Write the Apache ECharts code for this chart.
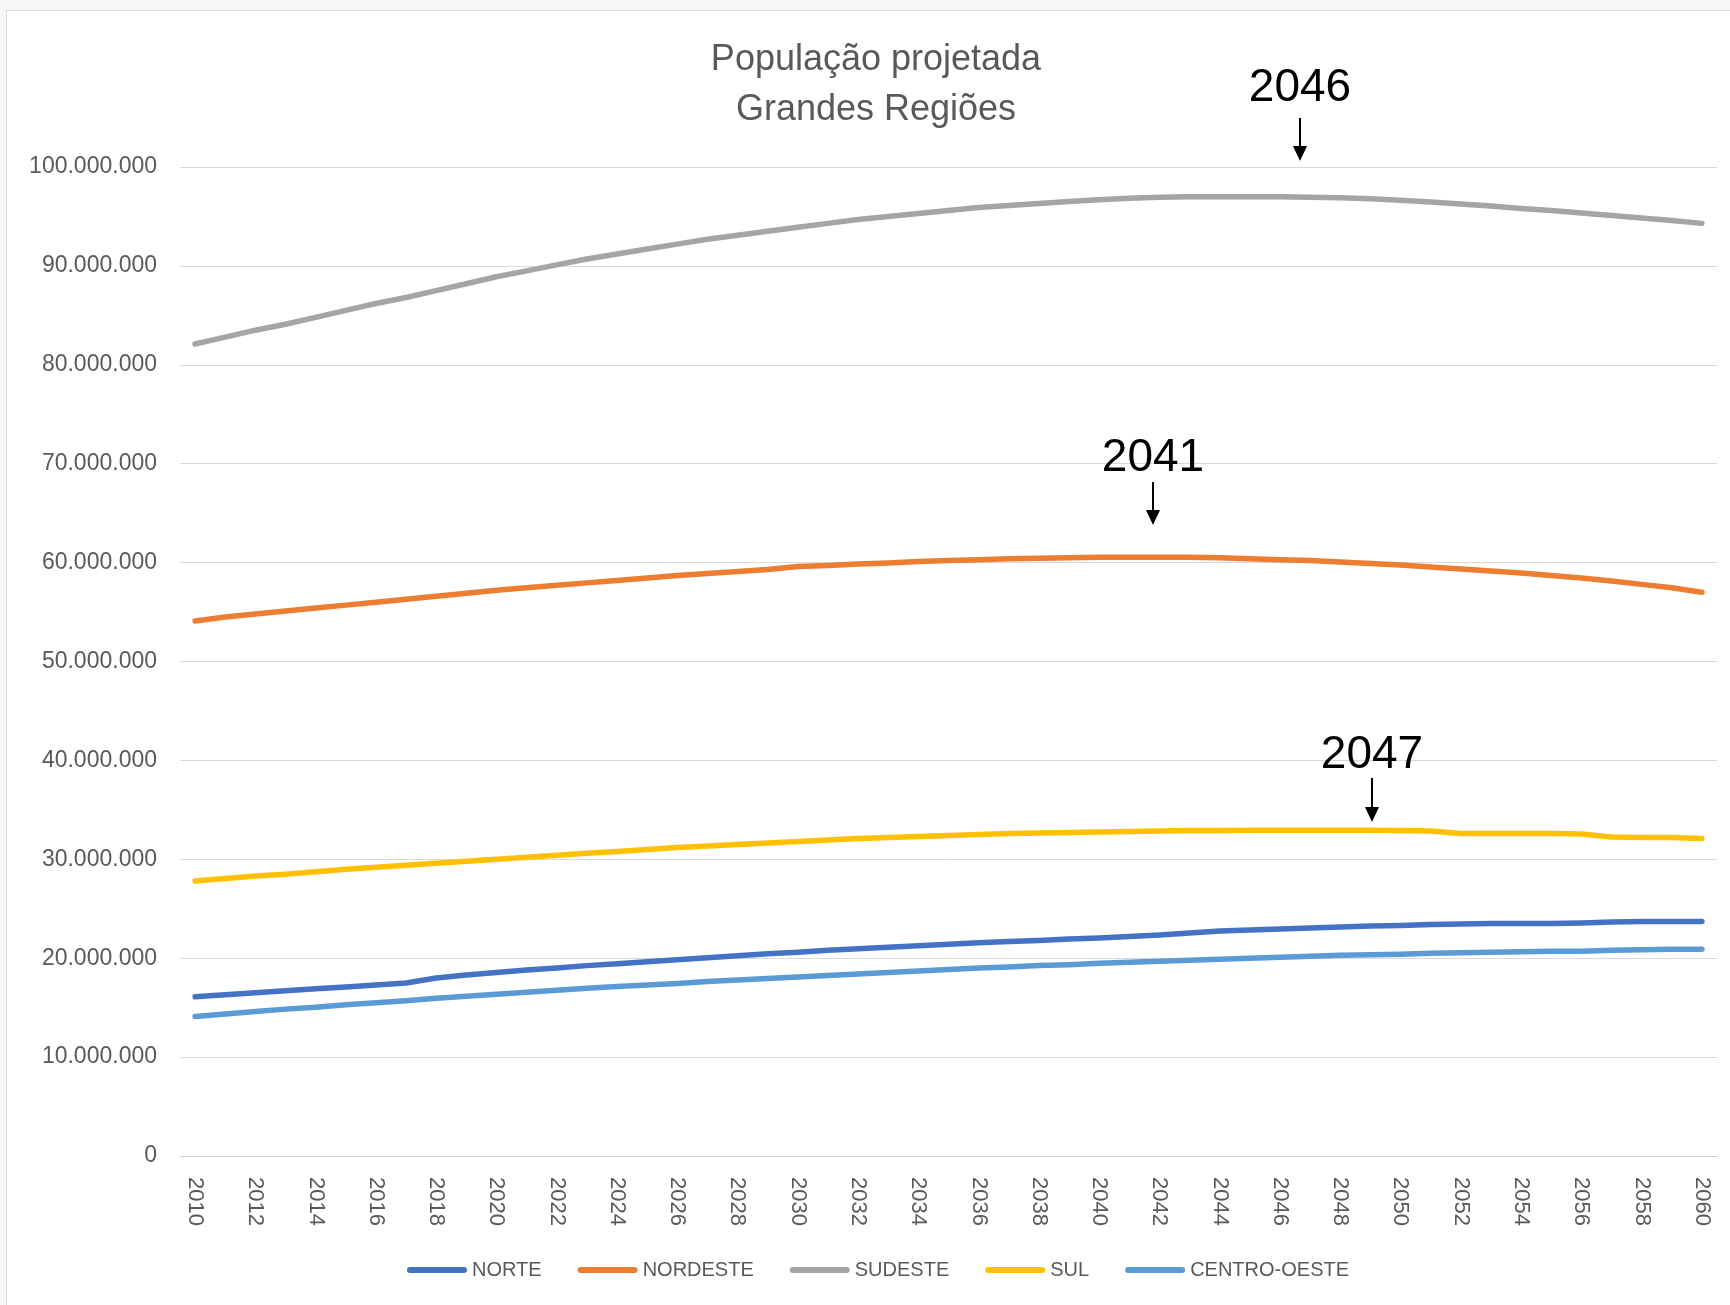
<!DOCTYPE html>
<html>
<head>
<meta charset="utf-8">
<title>População projetada - Grandes Regiões</title>
<script src="https://cdn.jsdelivr.net/npm/echarts@6/dist/echarts.min.js"></script>
<style>
html, body { margin: 0; padding: 0; width: 1730px; height: 1305px; background: #f6f6f6; overflow: hidden; }
#frame { position: absolute; left: 6px; top: 10px; width: 1723px; height: 1294px; background: #fff;
         border-left: 1px solid #d9d9d9; border-top: 1px solid #d9d9d9; }
#chart { width: 1723px; height: 1294px; }
</style>
</head>
<body>
<div id="frame"><div id="chart"></div></div>
<script>
// anos 2010..2060
const years = ['2010','2011','2012','2013','2014','2015','2016','2017','2018','2019',
    '2020','2021','2022','2023','2024','2025','2026','2027','2028','2029',
    '2030','2031','2032','2033','2034','2035','2036','2037','2038','2039',
    '2040','2041','2042','2043','2044','2045','2046','2047','2048','2049',
    '2050','2051','2052','2053','2054','2055','2056','2057','2058','2059','2060'];

// população em milhões
const norte = [16.1, 16.3, 16.5, 16.7, 16.9, 17.1, 17.3, 17.5, 18.0, 18.3,
    18.55, 18.8, 19.0, 19.25, 19.45, 19.65, 19.85, 20.05, 20.25, 20.45,
    20.6, 20.8, 20.95, 21.1, 21.25, 21.4, 21.55, 21.7, 21.8, 21.95,
    22.05, 22.2, 22.35, 22.55, 22.75, 22.85, 22.95, 23.05, 23.15, 23.25,
    23.3, 23.4, 23.45, 23.5, 23.5, 23.5, 23.55, 23.65, 23.7, 23.7, 23.7];
const nordeste = [54.1, 54.5, 54.8, 55.1, 55.4, 55.7, 56.0, 56.3, 56.6, 56.9,
    57.2, 57.45, 57.7, 57.95, 58.2, 58.45, 58.7, 58.9, 59.1, 59.3,
    59.6, 59.7, 59.85, 59.95, 60.1, 60.2, 60.3, 60.4, 60.45, 60.5,
    60.55, 60.55, 60.55, 60.55, 60.5, 60.4, 60.3, 60.2, 60.05, 59.9,
    59.75, 59.55, 59.35, 59.15, 58.95, 58.7, 58.45, 58.15, 57.8, 57.45, 57.0];
const sudeste = [82.1, 82.8, 83.5, 84.1, 84.8, 85.5, 86.2, 86.8, 87.5, 88.2,
    88.9, 89.5, 90.1, 90.7, 91.2, 91.7, 92.2, 92.7, 93.1, 93.5,
    93.9, 94.3, 94.7, 95.0, 95.3, 95.6, 95.9, 96.1, 96.3, 96.5,
    96.7, 96.85, 96.95, 97.0, 97.0, 97.0, 97.0, 96.95, 96.9, 96.8,
    96.65, 96.45, 96.25, 96.05, 95.8, 95.6, 95.35, 95.1, 94.85, 94.6, 94.3];
const sul = [27.8, 28.05, 28.3, 28.5, 28.75, 29.0, 29.2, 29.4, 29.6, 29.8,
    30.0, 30.2, 30.4, 30.6, 30.8, 31.0, 31.2, 31.35, 31.5, 31.65,
    31.8, 31.95, 32.1, 32.2, 32.3, 32.4, 32.5, 32.6, 32.65, 32.7,
    32.75, 32.8, 32.85, 32.9, 32.9, 32.93, 32.93, 32.93, 32.93, 32.93,
    32.9, 32.85, 32.6, 32.6, 32.6, 32.6, 32.55, 32.25, 32.2, 32.2, 32.1];
const centroOeste = [14.1, 14.35, 14.6, 14.85, 15.05, 15.3, 15.5, 15.7, 15.95, 16.15,
    16.35, 16.55, 16.75, 16.95, 17.15, 17.3, 17.45, 17.65, 17.8, 17.95,
    18.1, 18.25, 18.4, 18.55, 18.7, 18.85, 19.0, 19.1, 19.25, 19.35,
    19.5, 19.6, 19.7, 19.8, 19.9, 20.0, 20.1, 20.2, 20.3, 20.35,
    20.4, 20.5, 20.55, 20.6, 20.65, 20.7, 20.7, 20.8, 20.85, 20.9, 20.9];

const regions = ['NORTE', 'NORDESTE', 'SUDESTE', 'SUL', 'CENTRO-OESTE'];
const colors = ['#4472c4', '#ed7d31', '#a5a5a5', '#ffc000', '#5b9bd5'];
const seriesData = [norte, nordeste, sudeste, sul, centroOeste];

// anotações (anos de pico)
const peakLabels = ['2046', '2041', '2047'];
const peakPos = [ { x: 1293, ty: 77,  y1: 107, y2: 150 },
                  { x: 1146, ty: 447, y1: 471, y2: 514 },
                  { x: 1365, ty: 744, y1: 767, y2: 811 } ];

function fmtPop(v) {
    return String(Math.round(v * 1e6)).replace(/\B(?=(\d{3})+(?!\d))/g, '.');
}

const chart = echarts.init(document.getElementById('chart'));

const graphics = [{
    type: 'text', x: 869, y: 74, z: 10,
    style: {
        text: 'População projetada\nGrandes Regiões',
        font: '36px "Liberation Sans", Arial, sans-serif',
        fill: '#595959', align: 'center', verticalAlign: 'middle', lineHeight: 50
    }
}];
peakLabels.forEach((t, i) => {
    const p = peakPos[i];
    graphics.push({
        type: 'text', x: p.x, y: p.ty, z: 10,
        style: { text: t, font: '46px "Liberation Sans", Arial, sans-serif', fill: '#000',
                 align: 'center', verticalAlign: 'middle' }
    });
    graphics.push({
        type: 'line', z: 10,
        shape: { x1: p.x, y1: p.y1, x2: p.x, y2: p.y2 - 10 },
        style: { stroke: '#000', lineWidth: 2 }
    });
    graphics.push({
        type: 'polygon', z: 10,
        shape: { points: [[p.x - 7, p.y2 - 15], [p.x + 7, p.y2 - 15], [p.x, p.y2]] },
        style: { fill: '#000' }
    });
});

chart.setOption({
    animation: false,
    backgroundColor: '#fff',
    textStyle: { fontFamily: '"Liberation Sans", Arial, sans-serif' },
    graphic: graphics,
    grid: { left: 173, right: 13, top: 156, bottom: 149, containLabel: false },
    legend: {
        data: regions,
        left: 395, top: 1244,
        icon: 'path://M3,0 L57,0 A3,3 0 0 1 57,6 L3,6 A3,3 0 0 1 3,0 Z',
        itemWidth: 60, itemHeight: 6, itemGap: 36,
        textStyle: { color: '#595959', fontSize: 20 }
    },
    xAxis: {
        type: 'category',
        data: years,
        boundaryGap: true,
        axisTick: { show: false },
        axisLine: { lineStyle: { color: '#c8c8c8', width: 1, type: [3, 2] } },
        axisLabel: { interval: 1, rotate: -90, margin: 21, color: '#595959', fontSize: 22 }
    },
    yAxis: {
        type: 'value',
        min: 0, max: 100, interval: 10,
        axisLine: { show: false },
        axisTick: { show: false },
        splitLine: { lineStyle: { color: '#d9d9d9', width: 1 } },
        axisLabel: { formatter: fmtPop, color: '#595959', fontSize: 23, margin: 23 }
    },
    series: regions.map((name, i) => ({
        name: name,
        type: 'line',
        data: seriesData[i],
        symbol: 'none',
        color: colors[i],
        lineStyle: { width: 5.5, color: colors[i], cap: 'round', join: 'round' }
    }))
});
</script>
</body>
</html>
